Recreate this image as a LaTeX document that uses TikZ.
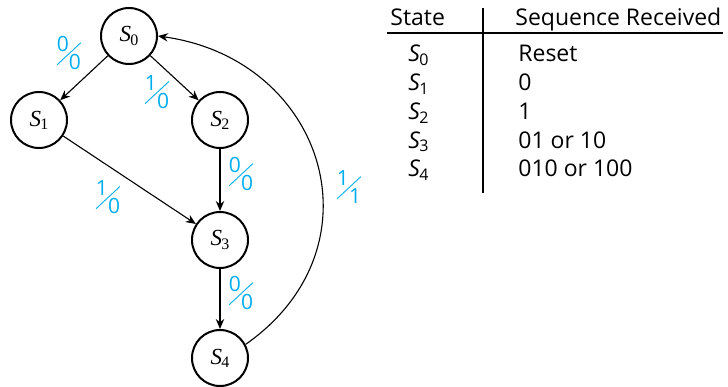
\documentclass[tikz,border=0pt]{standalone}
\usepackage{fontspec}
\setmainfont{Liberation Serif}
\setsansfont{Open Sans}
\usepackage{graphicx}
\usepackage{xcolor}
\usetikzlibrary{arrows.meta}

\definecolor{iocyan}{RGB}{0,174,239}
% state name with lowered index
\newcommand{\stname}[1]{\textit{S}\kern-0.04em\raisebox{-0.3ex}{\footnotesize #1}}
% input/output label, slashed
\newcommand{\iofrac}[2]{%
  \raisebox{0.43em}{#1}%
  \makebox[0pt]{\raisebox{-0.22em}{\rotatebox{43}{\rule{1.55em}{0.45pt}}}}%
  \raisebox{-0.43em}{#2}}

\tikzset{
  state/.style={circle,draw,line width=1pt,minimum size=28pt,inner sep=0pt,
    font=\fontsize{11.5}{13}\selectfont},
  trans/.style={-{Stealth[length=5pt,width=4.2pt]},line width=0.55pt},
  io/.style={text=iocyan,inner sep=0pt,font=\sffamily\fontsize{10.5}{11}\selectfont},
  tab/.style={inner sep=0pt,anchor=base west,font=\sffamily\fontsize{11.5}{13}\selectfont}
}

\begin{document}
\begin{tikzpicture}[x=0.5pt,y=0.5pt]
  \useasboundingbox (0,0) rectangle (728,386);
  % states
  \node[state] (s0) at (129,350) {\stname{0}};
  \node[state] (s1) at (39,266)  {\stname{1}};
  \node[state] (s2) at (220,266) {\stname{2}};
  \node[state] (s3) at (220,146) {\stname{3}};
  \node[state] (s4) at (220,28)  {\stname{4}};
  % transitions
  \draw[trans] (s0) -- (s1);
  \draw[trans] (s0) -- (s2);
  \draw[trans] (s1) -- (s3);
  \draw[trans] (s2) -- (s3);
  \draw[trans] (s3) -- (s4);
  \draw[trans] (s4.28) to[out=35,in=-8,looseness=1.35] (s0.east);
  % labels
  \node[io] (l01) at (69,333)  {\iofrac{0}{0}};
  \node[io] (l02) at (157,294) {\iofrac{1}{0}};
  \node[io] (l13) at (108,189) {\iofrac{1}{0}};
  \node[io] (l23) at (241,212) {\iofrac{0}{0}};
  \node[io] (l34) at (241,93)  {\iofrac{0}{0}};
  \node[io] (l40) at (349,199) {\iofrac{1}{1}};
  % table
  \node[tab] (hstate) at (390,360) {State};
  \node[tab] (hseq) at (515,360) {Sequence Received};
  \draw[line width=0.6pt] (387,353) -- (723,353);
  \draw[line width=0.6pt] (483,378) -- (483,193);
  \foreach \i/\txt in {0/Reset,1/0,2/1,3/01 or 10,4/010 or 100}{
    \node[tab] (st\i) at (408,324-28.75*\i) {\stname{\i}};
    \node[tab] (sq\i) at (518,324-28.75*\i) {\txt};
  }
\end{tikzpicture}
\end{document}
